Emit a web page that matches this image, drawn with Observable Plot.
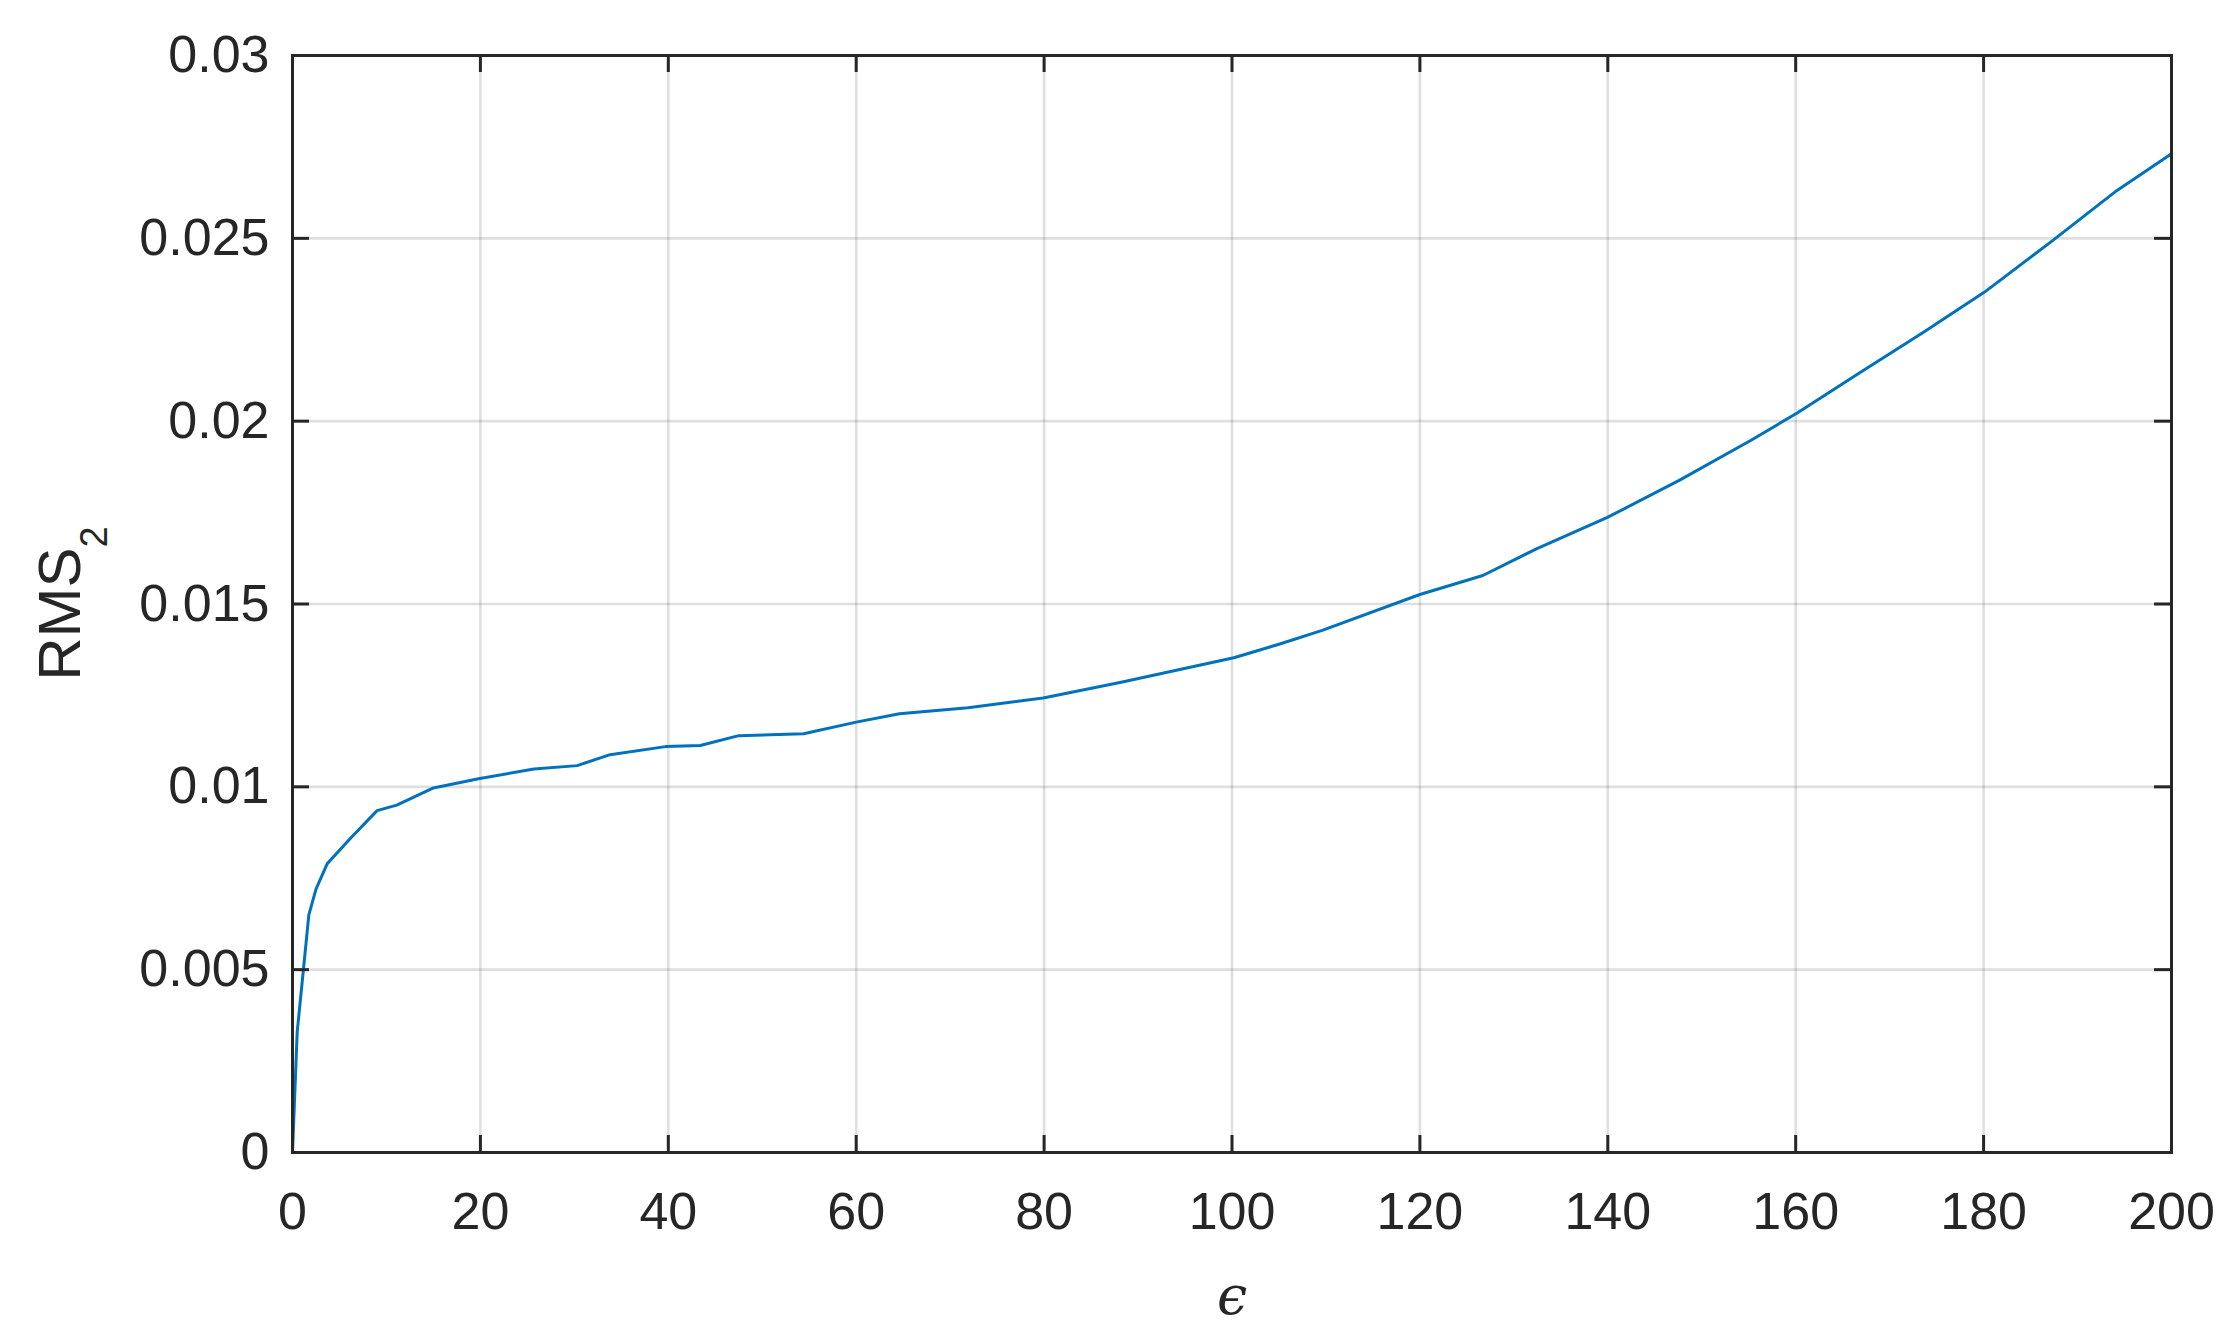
<!DOCTYPE html>
<html>
<head>
<meta charset="utf-8">
<script src="https://cdn.jsdelivr.net/npm/d3@7"></script>
<script src="https://cdn.jsdelivr.net/npm/@observablehq/plot@0.6"></script>
<style>
  html, body { margin: 0; padding: 0; background: #ffffff; }
  #chart { width: 2240px; height: 1339px; overflow: hidden; }
</style>
</head>
<body>
<div id="chart"></div>
<script>
// Series: epsilon (x) and RMS_2 (y)
const epsilon = [0, 0.5, 1.2, 1.74, 2.5, 3.7, 6.2, 9.0, 11.1, 15.0, 19.8, 25.7, 30.3, 33.8, 39.7, 43.4, 47.5, 54.4, 60, 64.6, 71.9, 79.9, 88.2, 100.2, 105, 109.6, 120, 126.7, 132.4, 139.9, 147.6, 155.2, 160.2, 166.9, 173.6, 180.1, 187.1, 194.2, 200];
const rms2 = [0, 0.0033, 0.0051, 0.0065, 0.0072, 0.0079, 0.0086, 0.00935, 0.0095, 0.00997, 0.01022, 0.01049, 0.01058, 0.01088, 0.0111, 0.01113, 0.0114, 0.01145, 0.01177, 0.0120, 0.01216, 0.01243, 0.01286, 0.01353, 0.0139, 0.01428, 0.01526, 0.01578, 0.01651, 0.01736, 0.01838, 0.01947, 0.02023, 0.02134, 0.02243, 0.02353, 0.02489, 0.02631, 0.02731];

// Ticks
const xTicks = [0, 20, 40, 60, 80, 100, 120, 140, 160, 180, 200];
const yTicks = [0, 0.005, 0.01, 0.015, 0.02, 0.025, 0.03];
const yTickLabels = ["0", "0.005", "0.01", "0.015", "0.02", "0.025", "0.03"];

const xLabel = "\u03F5";
const yLabelMain = "RMS";
const yLabelSub = "2";

const data = epsilon.map((e, i) => ({e, v: rms2[i]}));

const W = 2240, H = 1339;
const mTop = 55, mBottom = 187, mLeft = 292, mRight = 69;
const innerW = W - mLeft - mRight;
const innerH = H - mTop - mBottom;
const tickLen = 17;
const axisColor = "#262626";

const chart = Plot.plot({
  width: W,
  height: H,
  marginTop: mTop,
  marginBottom: mBottom,
  marginLeft: mLeft,
  marginRight: mRight,
  style: {
    fontFamily: "'Liberation Sans', Arial, Helvetica, sans-serif",
    fontSize: "52px",
    color: axisColor,
    background: "#ffffff"
  },
  x: {domain: [0, 200]},
  y: {domain: [0, 0.03]},
  marks: [
    Plot.gridX(xTicks, {stroke: axisColor, strokeOpacity: 0.15, strokeWidth: 2.6}),
    Plot.gridY(yTicks, {stroke: axisColor, strokeOpacity: 0.15, strokeWidth: 2.6}),
    Plot.axisX(xTicks, {anchor: "bottom", tickSize: 0, tickPadding: 40, label: null, fontSize: 52, fill: axisColor, tickFormat: d => String(d)}),
    Plot.axisY(yTicks, {anchor: "left", tickSize: 0, tickPadding: 23, label: null, fontSize: 52, fill: axisColor, tickFormat: d => yTickLabels[yTicks.indexOf(d)]}),
    Plot.line(data, {x: "e", y: "v", stroke: "#0072BD", strokeWidth: 3}),
    // inward ticks on all four sides
    Plot.tickX(xTicks, {x: d => d, insetTop: innerH - tickLen, stroke: axisColor, strokeWidth: 3}),
    Plot.tickX(xTicks, {x: d => d, insetBottom: innerH - tickLen, stroke: axisColor, strokeWidth: 3}),
    Plot.tickY(yTicks, {y: d => d, insetRight: innerW - tickLen, stroke: axisColor, strokeWidth: 3}),
    Plot.tickY(yTicks, {y: d => d, insetLeft: innerW - tickLen, stroke: axisColor, strokeWidth: 3}),
    Plot.frame({stroke: axisColor, strokeWidth: 3}),
    Plot.text([xLabel], {frameAnchor: "bottom", dy: 144, text: d => d, fontSize: 54, fontStyle: "italic", fontFamily: "'DejaVu Serif', serif", fill: axisColor, lineAnchor: "middle"})
  ]
});

// y-axis label with subscript
const svg = d3.select(chart.tagName === "svg" ? chart : chart.querySelector("svg"));
const yl = svg.append("text")
  .attr("transform", `translate(80, ${mTop + innerH / 2}) rotate(-90)`)
  .attr("text-anchor", "middle")
  .attr("fill", axisColor)
  .attr("font-family", "'Liberation Sans', Arial, Helvetica, sans-serif")
  .attr("font-size", 60);
yl.append("tspan").text(yLabelMain);
yl.append("tspan").attr("font-size", 38).attr("dy", 27).text(yLabelSub);

document.getElementById("chart").appendChild(chart);
</script>
</body>
</html>
